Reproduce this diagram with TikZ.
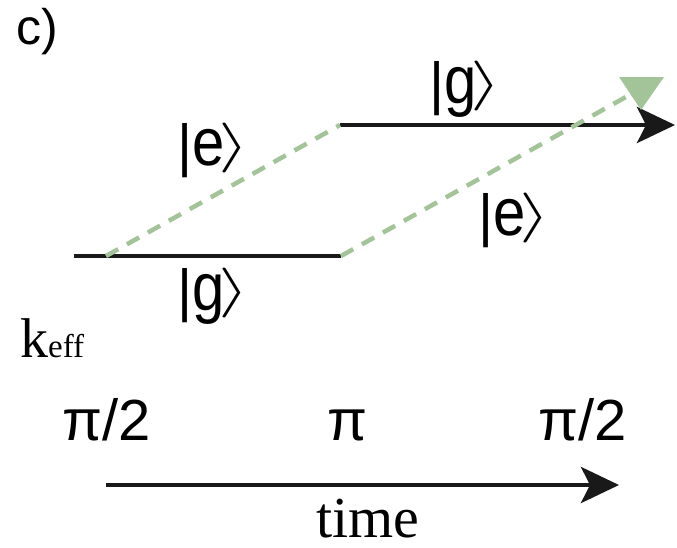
\documentclass[tikz,border=0pt]{standalone}
\usepackage{graphicx}
\usepackage{fontspec}
\setmainfont{Liberation Serif}
\setsansfont{Liberation Sans}
\usetikzlibrary{arrows.meta}
\definecolor{pathgreen}{RGB}{163,195,153}
% ket: bar, slightly tall letter, tall thin bracket
\newcommand{\ketang}{\kern-6pt\raisebox{4.5pt}{\fontsize{10}{12}\selectfont\scalebox{8}[5]{$\rangle$}}}
\newcommand{\ketlbl}[1]{|\scalebox{1}[1.16]{#1}\ketang}
\tikzset{
  level/.style={line width=4.5pt, draw=black!90},
  arm/.style={line width=4.5pt, draw=pathgreen, dash pattern=on 14pt off 10pt},
  ket/.style={font=\sffamily\fontsize{58}{58}\selectfont, inner sep=0pt, anchor=base west},
  pulse/.style={font=\sffamily\fontsize{58}{58}\selectfont, inner sep=0pt, anchor=base},
  serif/.style={font=\rmfamily\fontsize{58}{58}\selectfont, inner sep=0pt, anchor=base},
  tip/.style={-{Stealth[length=38pt, width=36pt, inset=9pt]}}
}
\begin{document}
\begin{tikzpicture}[x=1pt, y=-1pt]
  \useasboundingbox (0,0) rectangle (677,547);
  % panel label
  \node[font=\sffamily\fontsize{50}{50}\selectfont, inner sep=0pt, anchor=base west] (lbl) at (16,44) {c)};
  % path corners
  \coordinate (g1s) at (74,256);
  \coordinate (split) at (106,256);
  \coordinate (mirL) at (341,256);
  \coordinate (mirU) at (340,125);
  \coordinate (outG) at (675,125);
  \coordinate (outE) at (633,93);
  % ground-state paths
  \draw[level] (g1s) -- (mirL);
  \draw[level, tip] (mirU) -- (outG);
  % excited-state paths
  \draw[arm] (split) -- (mirU);
  \draw[arm] (mirL) -- (outE);
  \fill[pathgreen] (619,77) -- (664,77) -- (641,110) -- cycle;
  % state labels
  \node[ket] (gU) at (429,103) {\ketlbl{g}};
  \node[ket] (eU) at (177,165) {\ketlbl{e}};
  \node[ket] (eL) at (478,235) {\ketlbl{e}};
  \node[ket] (gL) at (177,310) {\ketlbl{g}};
  % wave vector
  \node[inner sep=0pt, anchor=base west] (keff) at (20,357)
    {\rmfamily\fontsize{56}{56}\selectfont k\fontsize{33}{33}\selectfont eff};
  % pulse sequence
  \node[pulse] (p1) at (107,440) {π/2};
  \node[pulse] (p2) at (348,440) {π};
  \node[pulse] (p3) at (583,440) {π/2};
  \coordinate (t0) at (106,485);
  \coordinate (t1) at (619,485);
  \draw[level, tip] (t0) -- (t1);
  \node[serif] (time) at (368,537) {time};
\end{tikzpicture}
\end{document}
